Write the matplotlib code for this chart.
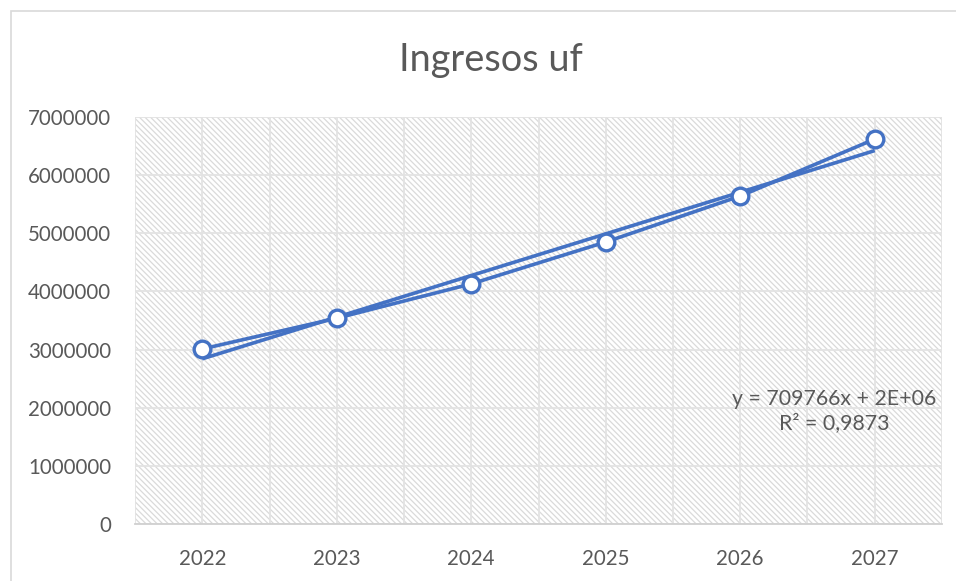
import matplotlib
matplotlib.use("Agg")
import matplotlib.pyplot as plt
from matplotlib.patches import Rectangle
import numpy as np

years = ["2022", "2023", "2024", "2025", "2026", "2027"]
ingresos = [3010000, 3540000, 4130000, 4850000, 5640000, 6620000]
y_ticks = [0, 1000000, 2000000, 3000000, 4000000, 5000000, 6000000, 7000000]
title = "Ingresos uf"
eq_text = "y = 709766x + 2E+06\nR² = 0,9873"

plt.rcParams['font.family'] = ['Lato', 'DejaVu Sans']
plt.rcParams['hatch.color'] = '#dadada'
plt.rcParams['hatch.linewidth'] = 0.9

W, H = 956, 581
fig = plt.figure(figsize=(W/100, H/100), dpi=100)
fig.patch.set_facecolor('white')

# chart border
fig.add_artist(Rectangle((11/W, -0.05), 1.1, 1 - 11/H + 0.05, transform=fig.transFigure,
                         fill=False, edgecolor='#d9d9d9', linewidth=1.2))

left, right, top, bottom = 135, 942, 117, 524
ax = fig.add_axes([left/W, 1 - bottom/H, (right-left)/W, (bottom-top)/H])

x = np.arange(len(years))
ax.set_xlim(-0.5, len(years) - 0.5)
ax.set_ylim(0, 7000000)

ax.set_facecolor('white')
ax.add_patch(Rectangle((0, 0), 1, 1, transform=ax.transAxes, facecolor='white',
                       hatch='\\\\\\\\\\\\', edgecolor='#dadada', linewidth=0, zorder=0))

# grid
for gx in np.arange(-0.5, len(years) - 0.4, 0.5):
    ax.axvline(gx, color='#e3e3e3', linewidth=1.3, zorder=1)
for gy in y_ticks:
    ax.axhline(gy, color='#e3e3e3', linewidth=1.3, zorder=1)

# data line
ax.plot(x, ingresos, color='#4472C4', linewidth=2.6, marker='o', markersize=12,
        markerfacecolor='white', markeredgecolor='#4472C4', markeredgewidth=2.4, zorder=4)

# linear trendline (Excel x = 1..n)
xn = x + 1
coef = np.polyfit(xn, ingresos, 1)
ax.plot(x, np.polyval(coef, xn), color='#4472C4', linewidth=2.6, zorder=3,
        solid_capstyle='butt')

ax.set_xticks(x)
ax.set_xticklabels(years)
ax.set_yticks(y_ticks)
ax.set_yticklabels([str(v) for v in y_ticks])
ax.tick_params(axis='both', length=0, labelsize=14.8, colors='#595959')
ax.tick_params(axis='x', pad=18)
ax.tick_params(axis='y', pad=17)
for s in ['top', 'right', 'left']:
    ax.spines[s].set_visible(False)
ax.spines['bottom'].set_color('#d0d0d0')
ax.spines['bottom'].set_linewidth(1.3)

fig.text(491/W, 1 - 60/H, title, ha='center', va='center', fontsize=27.3, color='#595959')
fig.text(834/W, 1 - 411/H, eq_text, ha='center', va='center', fontsize=15.3,
         color='#595959', linespacing=1.2)

fig.savefig("out.png", dpi=100, facecolor='white')
